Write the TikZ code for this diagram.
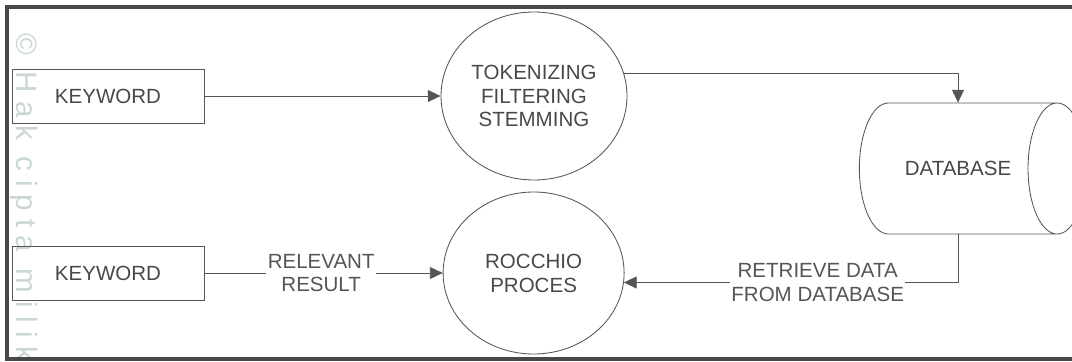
\documentclass[tikz,border=0pt]{standalone}
\usepackage{fontspec}
\setmainfont{Liberation Sans}
\usepackage{xcolor}
\definecolor{figink}{RGB}{85,85,85}
\definecolor{figtext}{RGB}{72,72,72}
\definecolor{figframe}{RGB}{72,72,72}
\definecolor{figmark}{RGB}{202,215,211}
\usetikzlibrary{shapes.geometric,arrows.meta,positioning,calc}

\begin{document}
\begin{tikzpicture}[
  font=\fontsize{14.6pt}{17pt}\selectfont,
  text=figtext,
  box/.style={draw=figink,line width=0.6pt,minimum width=4.8cm,minimum height=1.35cm,inner sep=0pt},
  proc/.style={ellipse,draw=figink,line width=0.6pt,align=center,inner sep=0pt},
  store/.style={cylinder,draw=figink,line width=0.6pt,shape aspect=4,inner sep=0pt},
  lbl/.style={fill=white,align=center,inner sep=1pt},
  ar/.style={-{Triangle[length=3.2mm,width=3mm]},figink,line width=0.6pt}
]
\useasboundingbox (0,0) rectangle (26.8,9.025);
\node[rotate=-90,anchor=west,inner sep=0pt,text=figmark,font=\fontsize{21pt}{24pt}\selectfont\addfontfeatures{LetterSpace=28}]
  (mark) at (0.6,8.2) {© Hak cipta milik};
\draw[figframe,line width=1mm] (26.8,8.85) -- (0.175,8.85) -- (0.175,0.05) -- (26.8,0.05);
\node[box] (kw1) at (2.70,6.625) {KEYWORD};
\node[box] (kw2) at (2.70,2.20) {KEYWORD};
\node[proc,minimum width=4.65cm,minimum height=4.2cm] (tok) at (13.35,6.625) {TOKENIZING\\FILTERING\\STEMMING};
\node[proc,minimum width=4.525cm,minimum height=4.05cm] (roc) at (13.34,2.20) {ROCCHIO\\PROCES};
\node[store,minimum width=3.275cm,minimum height=5.67cm] (db) at (23.95,4.8125) {DATABASE};
\draw[ar] (kw1) -- (tok);
\draw[ar] (tok.14) -| (db);
\draw[ar] (db) |- node[lbl,pos=0.71] {RETRIEVE DATA\\FROM DATABASE} (roc.-6);
\draw[ar] (kw2) -- node[lbl,pos=0.49] {RELEVANT\\RESULT} (roc);
\end{tikzpicture}
\end{document}
